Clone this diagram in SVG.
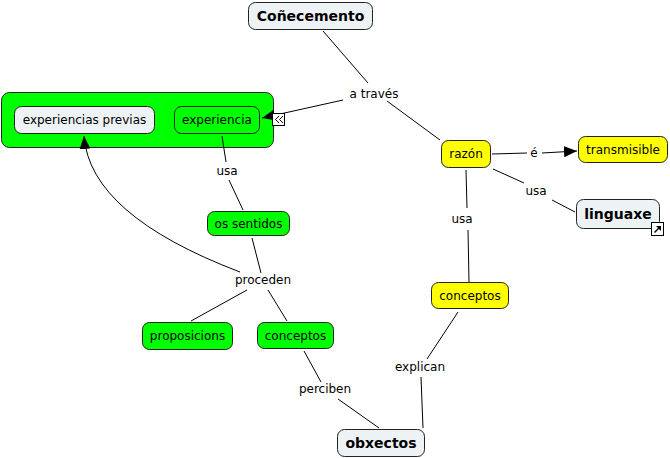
<svg xmlns="http://www.w3.org/2000/svg" width="670" height="458" viewBox="0 0 670 458">
<defs>
<marker id="arr" markerUnits="userSpaceOnUse" markerWidth="13" markerHeight="11" refX="13" refY="5.5" orient="auto">
<path d="M0,0 L13,5.5 L0,11 z" fill="#000"/>
</marker>
<style>
text{font-family:"DejaVu Sans",Verdana,sans-serif;font-size:12px;text-anchor:middle;fill:#000}
.b{font-weight:bold;font-size:14px}
.n{stroke:#222;stroke-width:1}
.lt{fill:#edf2f5}
.gr{fill:#00ff00}
.ye{fill:#ffff00}
.c{stroke:#000;stroke-width:1;fill:none}
</style>
</defs>
<rect width="670" height="458" fill="#fff"/>
<g id="label-a-traves"><text x="374" y="98">a través</text></g>
<g id="label-e"><text x="534" y="157">é</text></g>
<g id="label-usa-1"><text x="536" y="195">usa</text></g>
<g id="label-usa-2"><text x="462" y="223">usa</text></g>
<g id="label-explican"><text x="420" y="371">explican</text></g>
<g id="label-perciben"><text x="325" y="393">perciben</text></g>
<g id="label-proceden"><text x="263" y="284">proceden</text></g>
<g id="label-usa-3"><text x="227" y="175">usa</text></g>
<g id="conecemento"><rect class="n lt" x="248.5" y="2.5" width="124" height="27" rx="7"/><text class="b" x="310.5" y="21">Coñecemento</text></g>
<g id="grupo"><rect class="n gr" x="1.5" y="92.5" width="272" height="55" rx="8"/></g>
<g id="experiencias-previas"><rect class="n lt" x="14.5" y="106.5" width="140" height="27" rx="7"/><text x="84.5" y="124">experiencias previas</text></g>
<g id="experiencia"><rect class="n gr" x="174.5" y="106.5" width="85" height="27" rx="7"/><text x="217" y="124">experiencia</text></g>
<g id="razon"><rect class="n ye" x="441.5" y="140.5" width="49" height="27" rx="7"/><text x="466" y="158">razón</text></g>
<g id="transmisible"><rect class="n ye" x="578.5" y="136.5" width="89" height="26" rx="7"/><text x="623" y="153.5">transmisible</text></g>
<g id="linguaxe"><rect class="n lt" x="576.5" y="199.5" width="83" height="29" rx="7"/><text class="b" x="618" y="219">linguaxe</text><rect x="651.5" y="222.5" width="12" height="13" fill="#fff" stroke="#000"/><path d="M654.5,232.5 L659,228" stroke="#000" stroke-width="1.5"/><path d="M656,226 L661,226 L661,231 z" fill="#000"/></g>
<g id="conceptos-amarelo"><rect class="n ye" x="431.5" y="282.5" width="77" height="26" rx="7"/><text x="470" y="299.5">conceptos</text></g>
<g id="os-sentidos"><rect class="n gr" x="207.5" y="211.5" width="82" height="24" rx="7"/><text x="248.5" y="227.5">os sentidos</text></g>
<g id="proposicions"><rect class="n gr" x="142.5" y="322.5" width="90" height="27" rx="7"/><text x="187.5" y="340">proposicions</text></g>
<g id="conceptos-verde"><rect class="n gr" x="257.5" y="322.5" width="76" height="26" rx="7"/><text x="295.5" y="339.5">conceptos</text></g>
<g id="obxectos"><rect class="n lt" x="337.5" y="429.5" width="87" height="27" rx="7"/><text class="b" x="381" y="448">obxectos</text></g>
<g id="connectors">
<line class="c" x1="323" y1="31" x2="368" y2="83"/>
<line class="c" x1="387" y1="101" x2="440" y2="140"/>
<line class="c" x1="343" y1="100" x2="262" y2="118" marker-end="url(#arr)"/>
<line class="c" x1="492" y1="154" x2="527" y2="153"/>
<line class="c" x1="542" y1="153" x2="577" y2="151" marker-end="url(#arr)"/>
<line class="c" x1="493" y1="169" x2="524" y2="183"/>
<line class="c" x1="552" y1="200" x2="575" y2="212"/>
<line class="c" x1="466" y1="170" x2="467" y2="208"/>
<line class="c" x1="468" y1="230" x2="469" y2="282"/>
<line class="c" x1="458" y1="312" x2="427" y2="359"/>
<line class="c" x1="421" y1="377" x2="423" y2="428"/>
<line class="c" x1="304" y1="351" x2="321" y2="382"/>
<line class="c" x1="338" y1="399" x2="379" y2="428"/>
<line class="c" x1="222" y1="136" x2="226" y2="162"/>
<line class="c" x1="229" y1="180" x2="243" y2="210"/>
<line class="c" x1="252" y1="238" x2="261" y2="273"/>
<line class="c" x1="247" y1="290" x2="191" y2="321"/>
<line class="c" x1="268" y1="290" x2="287" y2="321"/>
<path class="c" d="M240,272 Q90,215 84,136" marker-end="url(#arr)"/>
</g>
<g id="icon-collapse"><rect x="272.5" y="113.5" width="12" height="12" fill="#fff" stroke="#000"/><polyline points="279,116 275.5,119.5 279,123" fill="none" stroke="#000"/><polyline points="283,116 279.5,119.5 283,123" fill="none" stroke="#000"/></g>
</svg>
